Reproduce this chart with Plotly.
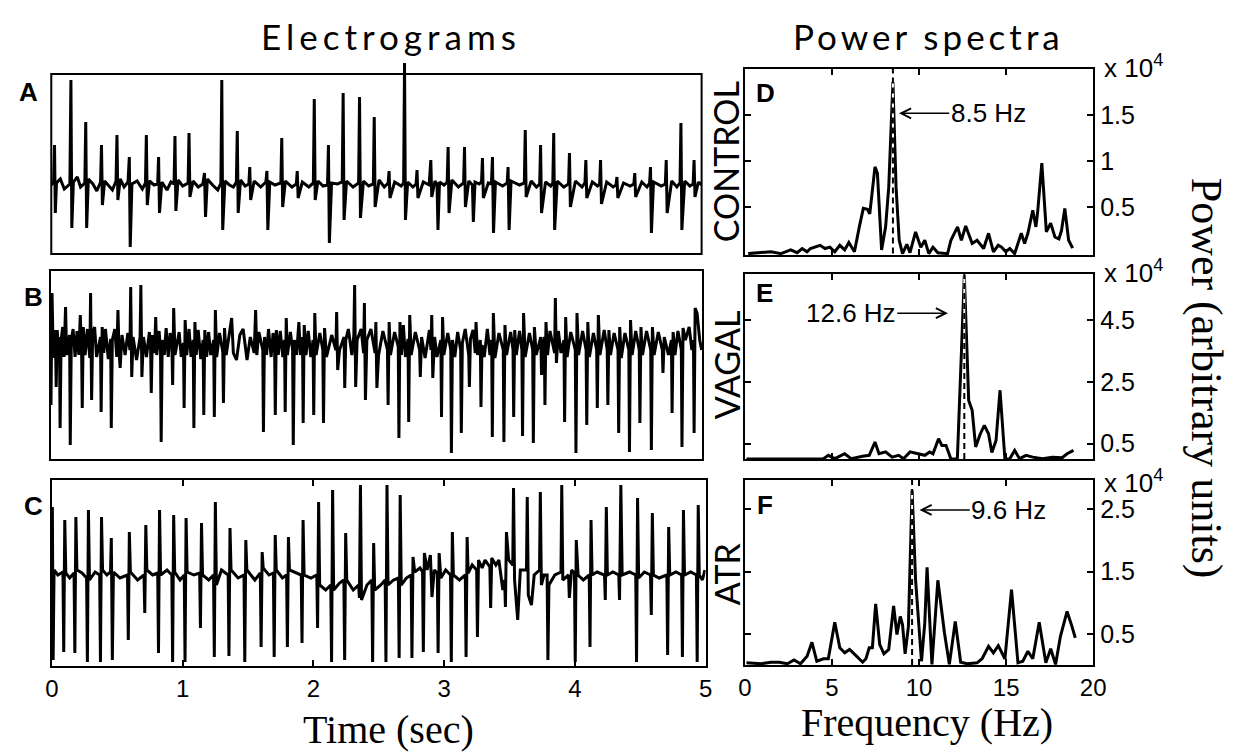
import plotly.graph_objects as go

# ---------------------------------------------------------------------------
# Electrogram samples (time in s, amplitude in arbitrary units)
# ---------------------------------------------------------------------------
A_time = [0.000, 0.018, 0.025, 0.031, 0.040, 0.070, 0.100, 0.143, 0.151, 0.158, 0.170, 0.200,
          0.225, 0.258, 0.265, 0.272, 0.285, 0.320, 0.350, 0.379, 0.386, 0.393, 0.410, 0.440,
          0.470, 0.498, 0.505, 0.512, 0.530, 0.560, 0.590, 0.600, 0.607, 0.620, 0.660, 0.700,
          0.724, 0.731, 0.738, 0.755, 0.790, 0.818, 0.825, 0.832, 0.850, 0.890, 0.920, 0.944,
          0.951, 0.958, 0.975, 1.010, 1.052, 1.059, 1.066, 1.090, 1.130, 1.165, 1.178, 1.186,
          1.200, 1.240, 1.280, 1.304, 1.311, 1.318, 1.335, 1.370, 1.400, 1.423, 1.430, 1.437,
          1.455, 1.490, 1.519, 1.526, 1.533, 1.560, 1.610, 1.650, 1.658, 1.665, 1.680, 1.720,
          1.765, 1.772, 1.779, 1.800, 1.850, 1.884, 1.891, 1.898, 1.930, 1.980, 2.015, 2.022,
          2.029, 2.050, 2.090, 2.124, 2.131, 2.138, 2.155, 2.200, 2.237, 2.244, 2.251, 2.270,
          2.320, 2.363, 2.370, 2.377, 2.400, 2.440, 2.476, 2.483, 2.490, 2.520, 2.560, 2.590,
          2.597, 2.604, 2.640, 2.690, 2.709, 2.716, 2.723, 2.740, 2.780, 2.805, 2.812, 2.819,
          2.860, 2.905, 2.918, 2.925, 2.950, 2.966, 2.973, 2.985, 3.020, 3.044, 3.051, 3.058,
          3.080, 3.130, 3.170, 3.177, 3.184, 3.210, 3.238, 3.245, 3.258, 3.290, 3.308, 3.315,
          3.322, 3.360, 3.384, 3.392, 3.400, 3.415, 3.470, 3.505, 3.512, 3.520, 3.535, 3.600,
          3.637, 3.644, 3.651, 3.690, 3.730, 3.755, 3.762, 3.769, 3.800, 3.840, 3.856, 3.863,
          3.870, 3.890, 3.940, 3.977, 3.984, 3.991, 4.030, 4.080, 4.103, 4.110, 4.117, 4.160,
          4.200, 4.216, 4.223, 4.230, 4.270, 4.320, 4.342, 4.349, 4.356, 4.400, 4.450, 4.479,
          4.486, 4.493, 4.540, 4.580, 4.600, 4.607, 4.614, 4.630, 4.690, 4.721, 4.728, 4.735,
          4.770, 4.810, 4.834, 4.841, 4.848, 4.870, 4.910, 4.935, 4.942, 4.949, 4.975, 5.000]
A_volt = [0.2, 0.5, 4.2, -2.6, 0.4, 0.8, -0.2, 0.3, 10.7, -4.1, 0.5, 1.0,
          0.0, 0.4, 6.5, -4.1, 0.8, 0.3, -0.4, 0.5, 4.2, -1.8, 0.6, 0.2,
          -0.3, 0.6, 5.2, -1.3, 0.8, 0.0, 0.5, 3.0, -6.0, 0.3, 0.6, -0.2,
          0.4, 5.2, -1.8, 0.6, 0.2, 0.3, 3.0, -2.6, 0.5, -0.3, 0.5, 0.3,
          5.1, -2.4, 0.7, 0.1, 0.4, 5.4, -1.0, 0.6, 0.0, 0.3, 1.4, -3.0,
          0.8, 0.2, -0.3, 0.4, 10.7, -4.3, 0.6, 0.2, 0.0, 0.5, 5.6, -2.6,
          0.7, 0.1, 0.3, 2.0, -1.3, 0.6, 0.0, 0.5, 1.6, -4.3, 0.5, 0.2,
          0.4, 4.9, -2.0, 0.6, 0.0, 0.3, 1.6, -1.1, 0.5, 0.0, 0.4, 8.8,
          -1.3, 0.6, 0.1, 0.2, 4.2, -5.6, 0.4, 0.3, 0.5, 9.4, -3.3, 0.6,
          0.0, 0.4, 9.0, -3.1, 0.6, 0.1, 0.3, 7.0, -2.0, 0.7, 0.0, 0.4,
          1.6, -1.1, 0.5, 0.1, 0.4, 12.4, -3.3, 0.5, 0.0, 0.3, 1.7, -1.1,
          0.5, 0.2, 2.7, -1.0, 0.6, 0.3, -4.3, 0.5, 0.2, 0.5, 4.0, -2.6,
          0.7, 0.0, 0.4, 4.0, -2.0, 0.6, 0.2, -3.5, 0.5, 0.3, 0.5, 2.9,
          -1.1, 0.4, 0.3, 3.0, -4.6, 0.5, 0.1, 0.4, 2.0, -4.3, 0.6, 0.2,
          0.4, 5.7, -1.0, 0.6, 0.0, 0.3, 4.2, -2.6, 0.5, 0.1, 0.4, 5.4,
          -4.3, 0.6, 0.0, 0.3, 3.4, -2.0, 0.6, 0.0, 0.4, 2.7, -1.1, 0.5,
          0.1, 0.3, 2.7, -1.7, 0.5, 0.0, 0.2, 1.0, -1.1, 0.4, 0.1, 0.3,
          1.4, -1.0, 0.5, 0.0, 0.4, 2.0, -4.6, 0.5, 0.1, 0.3, 2.7, -2.6,
          0.6, 0.0, 0.4, 6.4, -4.3, 0.6, 0.1, 0.3, 2.7, -1.0, 0.5, 0.2]

B_time = [0.000, 0.008, 0.018, 0.028, 0.036, 0.040, 0.048, 0.058, 0.065, 0.070, 0.078, 0.090,
          0.100, 0.112, 0.120, 0.143, 0.148, 0.156, 0.170, 0.185, 0.200, 0.214, 0.225, 0.235,
          0.240, 0.248, 0.262, 0.280, 0.298, 0.304, 0.312, 0.320, 0.335, 0.350, 0.380, 0.385,
          0.393, 0.405, 0.418, 0.440, 0.458, 0.463, 0.471, 0.490, 0.505, 0.514, 0.522, 0.531,
          0.545, 0.569, 0.590, 0.606, 0.612, 0.620, 0.630, 0.657, 0.684, 0.690, 0.698, 0.710,
          0.733, 0.755, 0.765, 0.770, 0.778, 0.795, 0.804, 0.812, 0.830, 0.841, 0.846, 0.854,
          0.870, 0.884, 0.900, 0.915, 0.929, 0.934, 0.942, 0.952, 0.984, 1.000, 1.017, 1.022,
          1.030, 1.042, 1.060, 1.075, 1.092, 1.097, 1.105, 1.115, 1.130, 1.150, 1.168, 1.173,
          1.181, 1.195, 1.210, 1.226, 1.249, 1.254, 1.262, 1.272, 1.294, 1.319, 1.324, 1.332,
          1.345, 1.370, 1.387, 1.400, 1.424, 1.450, 1.475, 1.505, 1.530, 1.560, 1.571, 1.580,
          1.596, 1.626, 1.631, 1.639, 1.655, 1.670, 1.690, 1.705, 1.717, 1.722, 1.730, 1.745,
          1.760, 1.780, 1.793, 1.798, 1.806, 1.815, 1.838, 1.855, 1.860, 1.868, 1.885, 1.903,
          1.915, 1.931, 1.936, 1.944, 1.958, 1.975, 1.995, 2.012, 2.017, 2.025, 2.035, 2.064,
          2.087, 2.092, 2.100, 2.115, 2.155, 2.187, 2.193, 2.201, 2.215, 2.250, 2.255, 2.263,
          2.283, 2.310, 2.325, 2.331, 2.339, 2.350, 2.381, 2.400, 2.406, 2.414, 2.425, 2.456,
          2.488, 2.494, 2.502, 2.515, 2.548, 2.583, 2.588, 2.596, 2.606, 2.638, 2.666, 2.671,
          2.679, 2.690, 2.705, 2.721, 2.741, 2.746, 2.754, 2.765, 2.797, 2.830, 2.835, 2.845,
          2.872, 2.905, 2.917, 2.923, 2.931, 2.945, 2.963, 2.993, 2.998, 3.006, 3.016, 3.046,
          3.069, 3.074, 3.082, 3.100, 3.122, 3.145, 3.150, 3.158, 3.180, 3.207, 3.212, 3.220,
          3.240, 3.257, 3.263, 3.275, 3.296, 3.301, 3.309, 3.326, 3.350, 3.370, 3.383, 3.388,
          3.396, 3.408, 3.439, 3.472, 3.477, 3.485, 3.497, 3.529, 3.547, 3.552, 3.560, 3.572,
          3.597, 3.615, 3.620, 3.628, 3.640, 3.673, 3.698, 3.703, 3.711, 3.725, 3.760, 3.766,
          3.775, 3.787, 3.792, 3.800, 3.812, 3.831, 3.866, 3.872, 3.880, 3.895, 3.915, 3.938,
          3.943, 3.951, 3.962, 3.990, 4.025, 4.030, 4.038, 4.050, 4.081, 4.108, 4.113, 4.121,
          4.133, 4.164, 4.189, 4.194, 4.202, 4.214, 4.247, 4.270, 4.275, 4.283, 4.295, 4.323,
          4.353, 4.358, 4.366, 4.378, 4.406, 4.436, 4.441, 4.449, 4.461, 4.489, 4.516, 4.521,
          4.529, 4.541, 4.572, 4.604, 4.609, 4.617, 4.630, 4.662, 4.693, 4.698, 4.708, 4.740,
          4.763, 4.768, 4.776, 4.790, 4.813, 4.839, 4.844, 4.852, 4.870, 4.899, 4.920, 4.932,
          4.937, 4.945, 4.960, 4.980, 4.995]
B_volt = [-5.0, 6.2, -0.3, 2.5, 0.2, -3.2, 2.5, 0.0, 1.8, -7.3, 1.5, 2.8,
          -0.2, 4.8, 0.0, 2.0, -9.0, 1.5, 2.6, -0.2, 2.4, 0.0, 4.0, 0.5,
          -5.3, 2.8, 0.0, 2.6, -0.3, 6.2, -4.5, 2.2, 2.8, -0.2, 1.8, -5.7,
          2.8, 0.2, 2.6, -0.4, 1.6, -7.3, 1.5, 2.6, -0.2, 4.5, 0.5, -1.3,
          2.0, 0.0, 2.2, 0.5, 6.8, -2.2, 1.8, -0.5, 1.8, 7.0, -2.2, 1.8,
          -0.2, 2.3, 0.5, -3.8, 2.0, 0.2, 3.8, 0.0, 2.4, 0.5, -8.7, 1.5,
          0.0, 2.7, -0.2, 2.2, 0.5, -3.0, 4.7, 0.0, 2.3, -0.2, 1.2, -5.3,
          3.5, 0.0, 2.6, -0.2, 1.5, -7.3, 3.3, 0.0, 2.5, -0.4, 1.5, -6.0,
          2.5, -0.2, 2.3, 0.0, 1.5, -6.2, 4.5, -0.2, 2.2, 0.3, -4.8, 2.7,
          0.0, 2.3, 3.7, 0.2, -0.5, 2.0, 2.6, -0.5, 1.8, 0.2, 4.5, 0.0,
          2.3, 0.5, -7.7, 1.8, 0.0, 2.6, -0.2, 2.2, 0.5, -6.0, 2.5, 0.0,
          2.4, -0.2, 1.5, -5.7, 3.7, 0.0, 2.3, 0.5, -9.0, 1.5, 0.0, 3.3,
          0.0, 1.8, -6.8, 3.0, 0.0, 2.4, -0.2, 1.5, -6.0, 4.2, 0.0, 2.2,
          0.5, -6.8, 2.7, -0.2, 2.0, 0.5, 4.3, -1.5, 0.5, 1.8, -3.3, 1.5,
          2.6, 0.0, 2.0, 7.0, -3.2, 1.5, 2.6, 0.2, 5.2, -4.5, 1.5, 2.6,
          0.2, 3.3, -3.3, 0.0, 2.4, 0.5, -5.0, 3.3, 0.0, 2.3, 0.8, -8.3,
          3.3, 0.0, 3.0, -0.2, 1.6, -6.7, 4.0, 0.0, 2.3, 0.5, -2.2, 1.8,
          -0.3, 2.5, 0.5, 4.0, -2.3, 1.8, -0.2, 1.5, -6.2, 3.8, 0.0, 2.2,
          0.5, -9.8, 1.5, -0.2, 2.3, 0.5, -7.8, 1.2, 2.6, 0.0, -3.2, 1.6,
          2.5, 0.2, 3.3, 0.0, 1.5, -5.2, 1.0, -0.2, 2.6, 0.0, 1.5, -8.2,
          4.2, -0.3, 2.2, 0.5, -8.7, 3.0, 0.0, 2.3, 0.5, -6.2, 2.5, 0.0,
          2.4, 0.5, -8.1, 4.2, -0.2, 2.2, 0.5, -8.8, 2.8, 0.0, 1.8, -2.0,
          0.5, 1.8, -5.0, 3.3, 0.0, 2.4, 0.2, 5.7, -0.8, 2.4, 0.2, 1.5,
          -6.7, 3.8, -0.2, 2.3, 0.5, -9.8, 4.2, 0.0, 2.4, 0.5, -7.0, 3.3,
          -0.2, 2.2, 0.5, -5.3, 4.0, 0.0, 2.5, 0.5, -5.0, 2.5, 0.0, 2.2,
          0.5, -7.8, 2.8, -0.3, 2.2, 0.5, -9.7, 3.5, 0.0, 2.4, 0.5, -6.8,
          2.8, 0.0, 2.4, 0.5, -9.5, 2.8, 0.0, 2.3, 0.5, -1.8, 1.8, 0.0,
          1.5, -5.8, 2.3, 0.0, 2.4, 0.5, -9.2, 2.7, 1.5, 2.8, 0.5, 1.5,
          -7.8, 4.7, 4.2, 1.5, 0.5]

C_time = [0.000, 0.003, 0.009, 0.016, 0.045, 0.084, 0.090, 0.098, 0.106, 0.135, 0.169, 0.175,
          0.183, 0.191, 0.230, 0.265, 0.271, 0.279, 0.287, 0.330, 0.365, 0.371, 0.379, 0.387,
          0.420, 0.448, 0.454, 0.462, 0.470, 0.520, 0.578, 0.584, 0.592, 0.600, 0.655, 0.704,
          0.710, 0.718, 0.726, 0.770, 0.809, 0.815, 0.823, 0.831, 0.880, 0.917, 0.923, 0.931,
          0.939, 0.980, 1.012, 1.018, 1.026, 1.034, 1.086, 1.130, 1.136, 1.144, 1.152, 1.199,
          1.236, 1.242, 1.250, 1.258, 1.297, 1.348, 1.354, 1.362, 1.370, 1.424, 1.469, 1.475,
          1.483, 1.491, 1.552, 1.594, 1.600, 1.608, 1.616, 1.660, 1.694, 1.700, 1.708, 1.716,
          1.763, 1.795, 1.801, 1.809, 1.817, 1.868, 1.907, 1.913, 1.921, 1.929, 1.981, 2.026,
          2.032, 2.040, 2.048, 2.094, 2.133, 2.139, 2.147, 2.155, 2.200, 2.233, 2.239, 2.247,
          2.255, 2.305, 2.346, 2.352, 2.360, 2.368, 2.410, 2.447, 2.453, 2.461, 2.469, 2.516,
          2.549, 2.555, 2.563, 2.571, 2.613, 2.650, 2.656, 2.664, 2.672, 2.711, 2.748, 2.754,
          2.762, 2.775, 2.816, 2.835, 2.841, 2.849, 2.870, 2.895, 2.907, 2.925, 2.948, 2.954,
          2.962, 2.975, 3.012, 3.049, 3.055, 3.063, 3.071, 3.117, 3.162, 3.168, 3.176, 3.184,
          3.215, 3.249, 3.255, 3.263, 3.291, 3.313, 3.350, 3.356, 3.364, 3.396, 3.419, 3.449,
          3.463, 3.469, 3.477, 3.494, 3.525, 3.531, 3.539, 3.563, 3.583, 3.630, 3.636, 3.644,
          3.668, 3.689, 3.730, 3.736, 3.744, 3.764, 3.788, 3.794, 3.802, 3.847, 3.894, 3.900,
          3.908, 3.952, 3.958, 3.975, 3.997, 4.003, 4.011, 4.025, 4.065, 4.110, 4.116, 4.124,
          4.132, 4.170, 4.227, 4.233, 4.241, 4.249, 4.291, 4.336, 4.342, 4.352, 4.362, 4.419,
          4.466, 4.472, 4.480, 4.488, 4.532, 4.579, 4.585, 4.593, 4.601, 4.645, 4.704, 4.710,
          4.718, 4.726, 4.773, 4.817, 4.823, 4.831, 4.839, 4.886, 4.930, 4.936, 4.944, 4.952,
          4.976, 4.995]
C_volt = [1.5, 6.8, -8.5, 0.5, 0.0, 0.3, -7.7, 5.5, 0.2, -0.3, 0.2, -7.8,
          5.8, 0.5, 0.2, -0.3, -8.7, 6.5, -0.5, 0.3, 0.0, -8.7, 5.8, 0.5,
          0.0, 0.3, 3.7, -8.5, 0.3, -0.3, 0.0, -6.5, 4.3, 0.3, -0.5, 0.0,
          -3.8, 5.0, 0.5, 0.0, 0.2, -7.8, 6.5, 0.0, 0.5, 0.0, -8.7, 6.0,
          0.3, -0.5, 0.0, -8.7, 5.7, 0.3, 0.0, 0.2, -5.3, 5.2, 0.0, -0.5,
          0.0, -8.2, 7.3, -1.0, 0.5, 0.0, -8.1, 4.7, 0.5, -0.3, 0.0, -8.7,
          3.5, 0.5, -0.5, 0.2, -7.2, 2.3, 0.7, 0.0, 0.2, -8.2, 4.0, 0.5,
          -0.3, 0.0, -7.2, 3.8, 0.5, 0.2, 0.0, -6.8, 5.5, 0.0, -0.3, 0.0,
          -5.3, 7.3, -1.0, -1.5, -1.0, -8.7, 8.5, -1.5, -0.8, -0.5, -8.5, 4.2,
          -0.5, -1.5, -1.0, -2.3, 9.0, -2.5, -1.0, -0.5, -8.7, 3.2, -1.5, -1.0,
          -0.5, -8.7, 9.0, -1.0, -0.5, -0.3, -8.3, 8.0, -1.0, -0.3, 0.0, -8.3,
          1.8, 0.3, 0.7, 0.3, -7.7, 2.2, 0.5, 2.0, -2.2, 0.5, 0.2, -7.8,
          2.2, -0.3, 0.5, 0.0, -8.7, 4.3, 0.0, -0.5, 0.0, -8.2, 3.8, 0.2,
          1.0, 0.5, -6.2, 1.5, 0.7, 1.5, 0.8, -3.3, 1.7, 1.0, 1.5, -1.5,
          -0.5, -3.2, 4.3, 1.5, 1.0, 8.7, -0.5, -4.5, 0.5, 0.5, 7.8, -2.0,
          -3.0, 0.0, 0.5, 8.3, -1.0, 0.0, 0.0, -8.5, -1.0, 0.0, 0.3, 9.0,
          -0.5, 0.0, -2.3, 0.5, 0.2, -8.7, 3.5, 0.0, -0.5, 0.0, -7.2, 5.5,
          0.0, 0.3, 0.0, -2.5, 6.8, 0.0, 0.3, 0.0, -2.5, 9.0, 0.0, 0.3,
          0.0, -8.7, 7.7, -0.3, 0.3, 0.0, -4.0, 6.2, 0.0, -0.3, 0.0, -8.0,
          4.8, 0.0, 0.3, 0.0, -8.2, 6.5, 0.0, 0.3, 0.0, -8.7, 7.0, 0.0,
          -0.5, 0.5]

# ---------------------------------------------------------------------------
# Power spectra (frequency in Hz, power in arbitrary units)
# ---------------------------------------------------------------------------
D_freq = [0.19, 1.50, 2.07, 2.63, 3.00, 3.29, 3.57, 3.76, 4.32, 4.60, 4.88, 5.16, 5.45, 5.73,
          5.97, 6.29, 6.57, 6.80, 7.04, 7.17, 7.47, 7.61, 7.85, 8.08, 8.26, 8.50, 8.68, 8.86,
          9.05, 9.30, 9.48, 9.80, 10.10, 10.33, 10.56, 10.80, 11.08, 11.64, 11.83, 12.21, 12.43,
          12.68, 13.05, 13.33, 13.71, 13.99, 14.27, 14.55, 14.74, 14.98, 15.21, 15.49, 15.87,
          16.06, 16.25, 16.53, 16.71, 16.81, 17.05, 17.31, 17.56, 17.80, 18.03, 18.18, 18.37,
          18.59, 18.82]
D_power = [0, 200, 0, 400, 100, 550, 200, 550, 900, 550, 700, 200, 900, 400,
           1200, 200, 2900, 4900, 4800, 4300, 9400, 8700, 400, 2900, 7200, 18600, 7200, 1450,
           0, 1000, 100, 2350, 700, 1450, 0, 700, 100, 0, 1450, 2900, 1450,
           3000, 1100, 1450, 550, 2200, 200, 900, 700, 200, 550, 0, 2200,
           1100, 2200, 4700, 2900, 4500, 9800, 2350, 3300, 1800, 1600, 2500, 4900,
           1450, 600]

E_freq = [0.09, 4.51, 4.79, 5.16, 5.73, 6.10, 6.76, 7.14, 7.47, 7.70, 8.08, 8.45, 8.83, 9.11,
          9.48, 9.95, 10.33, 10.61, 10.80, 11.12, 11.31, 11.55, 11.83, 12.20, 12.60, 12.85,
          13.05, 13.25, 13.52, 13.75, 13.99, 14.18, 14.42, 14.65, 14.93, 15.21, 15.49, 15.77,
          16.15, 16.53, 17.09, 17.65, 18.22, 18.50, 18.87]
E_power = [0, 100, 1200, 100, 1700, 100, 900, 1200, 5500, 1700, 2300, 600, 1200, 100,
           2300, 1700, 1200, 2300, 1700, 6600, 4400, 4400, 0, 100, 59600, 19000,
           15800, 3900, 8200, 10900, 8200, 2100, 6000, 22300, 0, 100, 2800, 100,
           1200, 600, 100, 600, 400, 1700, 2800]

F_freq = [0.09, 0.94, 1.50, 1.97, 2.44, 2.82, 3.19, 3.57, 3.85, 4.13, 4.51, 4.79, 5.16, 5.45,
          5.73, 6.01, 6.38, 6.76, 6.95, 7.14, 7.32, 7.51, 7.74, 7.98, 8.26, 8.54, 8.73, 8.92,
          9.05, 9.20, 9.39, 9.60, 9.80, 10.14, 10.33, 10.46, 10.74, 11.08, 11.46, 11.74, 12.08,
          12.39, 12.77, 13.33, 13.62, 13.99, 14.27, 14.55, 14.93, 15.31, 15.68, 15.96, 16.25,
          16.53, 16.90, 17.28, 17.56, 17.84, 18.12, 18.50, 18.78, 18.97]
F_power = [350, 200, 450, 450, 200, 800, 200, 1400, 3650, 600, 1000, 1000, 6850, 2750,
           1950, 2500, 1500, 450, 1000, 2750, 2750, 9800, 3300, 1800, 2500, 9500, 4900, 7800,
           6500, 1800, 6200, 28100, 13700, 600, 6750, 15700, 100, 13600, 5150, 100, 7000,
           450, 200, 350, 1000, 3000, 1950, 3100, 1000, 12100, 350, 600, 2200,
           1000, 6850, 350, 2600, 100, 4600, 8600, 6200, 4350]

# dominant frequency of each spectrum (Hz) and its label
dominant_freq = [8.5, 12.6, 9.6]
dominant_label = ["8.5 Hz", "12.6 Hz", "9.6 Hz"]

# tick marks
time_ticks = [0, 1, 2, 3, 4, 5]
freq_ticks = [0, 5, 10, 15, 20]
power_ticks = [[5000, 10000, 15000], [5000, 25000, 45000], [5000, 15000, 25000]]
power_ticktext = [["0.5", "1", "1.5"], ["0.5", "2.5", "4.5"], ["0.5", "1.5", "2.5"]]
power_top = [20000, 60000, 29700]

# ---------------------------------------------------------------------------
W, H = 1240, 755


def fx(px):
    return px / W


def fy(py):
    return 1 - py / H


SANS = "Liberation Sans, Arial, sans-serif"
SERIF = "Liberation Serif, Times New Roman, serif"
HEAD = "Lato, Open Sans, sans-serif"
LW = 3

fig = go.Figure()

egm = [(A_time, A_volt), (B_time, B_volt), (C_time, C_volt)]
for i, (t, v) in enumerate(egm):
    ax = "" if i == 0 else str(i + 1)
    fig.add_trace(go.Scatter(x=t, y=v, mode="lines", xaxis="x" + ax, yaxis="y" + ax,
                             line=dict(color="black", width=LW), hoverinfo="skip"))

spectra = [(D_freq, D_power), (E_freq, E_power), (F_freq, F_power)]
for i, (f, p) in enumerate(spectra):
    n = str(i + 4)
    fig.add_trace(go.Scatter(x=f, y=p, mode="lines", xaxis="x" + n, yaxis="y" + n,
                             line=dict(color="black", width=LW), hoverinfo="skip"))
    # marker line at the dominant frequency: white core with black dashes
    fd = dominant_freq[i]
    fig.add_trace(go.Scatter(x=[fd, fd], y=[0, power_top[i]], mode="lines",
                             xaxis="x" + n, yaxis="y" + n,
                             line=dict(color="white", width=2), hoverinfo="skip"))
    fig.add_trace(go.Scatter(x=[fd, fd], y=[0, power_top[i]], mode="lines",
                             xaxis="x" + n, yaxis="y" + n,
                             line=dict(color="black", width=2, dash="6px,4px"),
                             hoverinfo="skip"))

layout = dict(width=W, height=H, margin=dict(l=0, r=0, t=0, b=0),
              paper_bgcolor="white", plot_bgcolor="white", showlegend=False)

hidden = dict(showgrid=False, zeroline=False, showticklabels=False, showline=False, ticks="")
boxed = dict(showgrid=False, zeroline=False, showline=True, mirror=True,
             linecolor="black", linewidth=2)

# electrogram panels
layout["xaxis"] = dict(hidden, anchor="y", domain=[fx(45), fx(706)], range=[0, 5])
layout["yaxis"] = dict(hidden, anchor="x", domain=[fy(254), fy(63)], range=[-6.7, 12.4])
layout["xaxis2"] = dict(boxed, anchor="y2", domain=[fx(44.7), fx(706.7)], range=[0, 5],
                        showticklabels=False, ticks="")
layout["yaxis2"] = dict(boxed, anchor="x2", domain=[fy(459.3), fy(270.7)],
                        range=[-10.43, 8.43], showticklabels=False, ticks="")
layout["xaxis3"] = dict(boxed, anchor="y3", domain=[fx(45.7), fx(710)], range=[0, 5],
                        mirror="ticks", ticks="inside", ticklen=6, tickwidth=1.5,
                        tickcolor="black", tickvals=time_ticks,
                        tickfont=dict(family=SANS, size=24, color="black"))
layout["yaxis3"] = dict(boxed, anchor="x3", domain=[fy(666), fy(480)], range=[-9.1, 9.5],
                        showticklabels=False, ticks="")

# spectrum panels
spec_rows = [(69, 255), (274, 459), (480, 665)]
for i, (top, bot) in enumerate(spec_rows):
    n = str(i + 4)
    layout["xaxis" + n] = dict(boxed, anchor="y" + n, domain=[fx(750), fx(1104)],
                               range=[0, 20], mirror="ticks", ticks="inside", ticklen=6,
                               tickwidth=1.5, tickcolor="black", tickvals=freq_ticks,
                               showticklabels=(i == 2),
                               tickfont=dict(family=SANS, size=24, color="black"))
    layout["yaxis" + n] = dict(boxed, anchor="x" + n, domain=[fy(bot), fy(top)],
                               range=[-150 if i == 0 else 0, power_top[i]],
                               side="right", mirror="ticks", ticks="inside", ticklen=6,
                               tickwidth=1.5, tickcolor="black",
                               tickvals=power_ticks[i], ticktext=power_ticktext[i],
                               tickfont=dict(family=SANS, size=25, color="black"))

fig.update_layout(**layout)

# frame of panel A (its trace may rise above the frame)
fig.add_shape(type="rect", xref="paper", yref="paper", x0=fx(45), x1=fx(706),
              y0=fy(254), y1=fy(74), line=dict(color="black", width=2))

ann = []


def text(x, y, s, font, size, color="black", angle=0, xanchor="center", bold=False):
    if bold:
        s = "<b>" + s + "</b>"
    ann.append(dict(x=fx(x), y=fy(y), xref="paper", yref="paper", text=s, showarrow=False,
                    textangle=angle, xanchor=xanchor, yanchor="middle",
                    font=dict(family=font, size=size, color=color)))


# column headings
text(390, 36, '<span style="letter-spacing:5px">Electrograms</span>', HEAD, 35)
text(937, 36, '<span style="letter-spacing:4px">Power spectra</span>', HEAD, 35)

# panel letters
for s, x, y in [("A", 22, 92), ("B", 27, 297), ("C", 27, 506),
                ("D", 771, 93), ("E", 770, 293), ("F", 770, 505)]:
    text(x, y, s, SANS, 26, bold=True)

# condition labels
for s, y in [("CONTROL", 162), ("VAGAL", 365), ("ATR", 574)]:
    text(731, y, s, HEAD, 34, angle=-90)

# multipliers
for y in [67, 272, 481]:
    text(1113, y, "x 10<sup>4</sup>", SANS, 26, xanchor="left")

# axis titles
text(388, 729, "Time (sec)", SERIF, 40)
text(935, 722, "Frequency (Hz)", SERIF, 40)
text(1220, 378, "Power (arbitrary units)", SERIF, 44, angle=90)

# dominant-frequency call-outs
callouts = [  # head (Hz, power), text centre (Hz, power)
    ((8.85, 15200), (13.97, 15200)),
    ((11.66, 47300), (6.08, 47300)),
    ((10.03, 24900), (15.15, 24900)),
]
for i, ((hx, hy), (tx, ty)) in enumerate(callouts):
    n = str(i + 4)
    ann.append(dict(x=hx, y=hy, xref="x" + n, yref="y" + n, ax=tx, ay=ty,
                    axref="x" + n, ayref="y" + n, text=dominant_label[i], showarrow=True,
                    arrowhead=5, arrowsize=1.3, arrowwidth=1.5, arrowcolor="black",
                    font=dict(family=SANS, size=26, color="black")))

fig.update_layout(annotations=ann)
fig.write_html("out.html")
